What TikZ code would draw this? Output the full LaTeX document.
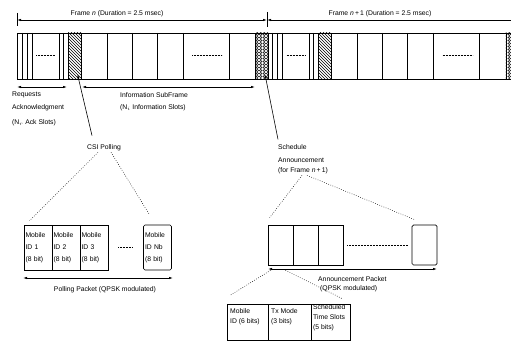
\documentclass[tikz,border=0pt]{standalone}
\usepackage{fontspec}
\setmainfont{Liberation Sans}
\usetikzlibrary{patterns,arrows.meta}
\pgfdeclarepatternformonly{beads}{\pgfpoint{-0.5pt}{-0.5pt}}{\pgfpoint{4pt}{3.5pt}}{\pgfpoint{3.5pt}{3pt}}%
{\pgfsetlinewidth{0.45pt}\pgfpathellipse{\pgfpoint{1.75pt}{1.5pt}}{\pgfpoint{1.3pt}{0pt}}{\pgfpoint{0pt}{1.1pt}}\pgfusepath{stroke}}
\begin{document}
\begin{tikzpicture}[x=1pt,y=-1pt,
  lbl/.style={font=\fontsize{6.8}{8}\selectfont, inner sep=0pt, anchor=west},
  tip/.style={Latex[length=4pt,width=2.4pt]},
  dimarrow/.style={{Latex[length=4pt,width=2.4pt]}-{Latex[length=4pt,width=2.4pt]}, line width=0.6pt},
  ptr/.style={-{Latex[length=4pt,width=2.4pt]}, line width=0.6pt},
  sparse/.style={line width=0.5pt, dash pattern=on 0.7pt off 1.6pt},
  slotdots/.style={line width=0.6pt, dash pattern=on 0.7pt off 0.8pt},
  barline/.style={line width=0.8pt},
  hatchbox/.style={draw, line width=0.8pt, pattern=north west lines, minimum width=13pt, minimum height=46pt, inner sep=0pt},
  beadbox/.style={draw, line width=0.8pt, pattern=beads, minimum width=13pt, minimum height=46pt, inner sep=0pt},
  pbox/.style={draw, line width=0.7pt, font=\fontsize{6.8}{12}\selectfont, align=left, text width=25pt, inner sep=1.5pt, minimum height=45pt},
  abox/.style={draw, line width=0.7pt, minimum width=25pt, minimum height=40pt, inner sep=0pt},
  fbox/.style={draw, line width=0.7pt, minimum height=36pt, inner sep=0pt},
  ftext/.style={font=\fontsize{6.8}{10}\selectfont, align=left, inner sep=0pt, anchor=west}
]
\useasboundingbox (0,0) rectangle (511,342);

% ---- frame bar ----
\draw[barline] (511,33) -- (17,33) -- (17,79) -- (511,79);
\foreach \o in {0,250.5}{
  \foreach \x in {22,27,32,59,63,107,132,157,183,229}{
    \draw[barline] (\x+\o,33) -- (\x+\o,79);
  }
  \draw[slotdots] (36+\o,55) -- (55+\o,55);
  \draw[slotdots] (192+\o,55) -- (222+\o,55);
}
\node[hatchbox] (hb1) at (74.5,56) {};
\node[hatchbox] (hb2) at (325,56) {};
\node[beadbox] (cb1) at (261.5,56) {};
\node[draw, line width=0.8pt, pattern=beads, minimum width=7pt, minimum height=46pt, inner sep=0pt, anchor=west] (cb2) at (505.5,56) {};

% ---- frame duration arrows ----
\coordinate (t0a) at (17,13);
\coordinate (t0b) at (17,26);
\coordinate (t1a) at (267,12);
\coordinate (t1b) at (267,27);
\coordinate (fs) at (17,20);
\coordinate (fm) at (267,20);
\coordinate (fe) at (511,20);
\draw[line width=0.7pt] (t0a) -- (t0b);
\draw[line width=0.7pt] (t1a) -- (t1b);
\draw[dimarrow] (fs) -- (fm);
\draw[{Latex[length=4pt,width=2.4pt]}-, line width=0.6pt] (fm) -- (fe);
\node[lbl, anchor=center] (fn) at (117,14) {Frame \textit{n} (Duration = 2.5 msec)};
\node[lbl, anchor=center] (fn1) at (380,14) {Frame \textit{n}\,+\,1 (Duration = 2.5 msec)};

% ---- subframe arrows ----
\coordinate (ra) at (17,87);
\coordinate (rb) at (67,87);
\coordinate (ia) at (82,87);
\coordinate (ib) at (255,87);
\draw[dimarrow] (ra) -- (rb);
\draw[dimarrow] (ia) -- (ib);

\node[lbl] (req1) at (12,95) {Requests};
\node[lbl] (req2) at (12,108) {Acknowledgment};
\node[lbl] (req3) at (12,123) {(N$_{r}$ Ack Slots)};
\node[lbl] (inf1) at (120,95) {Information SubFrame};
\node[lbl] (inf2) at (120,108) {(N$_{i}$ Information Slots)};

% ---- CSI polling ----
\node[lbl] (csi) at (87,148) {CSI Polling};
\draw[ptr] ([xshift=5pt,yshift=9pt]csi.north west) -- ([xshift=3pt,yshift=5pt]hb1.south);

\node[pbox] (p1) at (38,247.5) {Mobile\\ID 1\\(8 bit)};
\node[pbox] (p2) at (66,247.5) {Mobile\\ID 2\\(8 bit)};
\node[pbox] (p3) at (94,247.5) {Mobile\\ID 3\\(8 bit)};
\node[pbox, rounded corners=1.5pt] (pN) at (157.5,247.5) {Mobile\\ID Nb\\(8 bit)};
\draw[slotdots] ([xshift=10pt]p3.east) -- ([xshift=-11pt]pN.west);
\draw[sparse] ([xshift=-6pt,yshift=-1pt]csi.south) -- ([xshift=6pt,yshift=4pt]p1.north west);
\draw[sparse] ([xshift=7pt,yshift=-1pt]csi.south) -- ([xshift=-8pt,yshift=10pt]pN.north);

\coordinate (pa) at (23,278);
\coordinate (pb) at (173,278);
\draw[dimarrow] (pa) -- (pb);
\node[lbl, anchor=center] (pp) at (105,290) {Polling Packet (QPSK modulated)};

% ---- schedule announcement ----
\node[lbl] (s1) at (278,147) {Schedule};
\node[lbl] (s2) at (278,160) {Announcement};
\node[lbl] (s3) at (278,171) {(for Frame \textit{n}\,+\,1)};
\draw[ptr] ([yshift=5pt]s1.north west) -- ([xshift=3.5pt,yshift=5pt]cb1.south);

\node[abox] (a1) at (280.5,245) {};
\node[abox] (a2) at (305.5,245) {};
\node[abox] (a3) at (330.5,245) {};
\node[abox, rounded corners=1.5pt] (a4) at (424.5,245) {};
\draw[slotdots] ([xshift=4pt]a3.east) -- ([xshift=-4pt]a4.west);
\draw[sparse] ([xshift=24pt,yshift=-1pt]s3.south west) -- ([xshift=2pt,yshift=7pt]a1.north west);
\draw[sparse] ([xshift=29pt,yshift=-1pt]s3.south west) -- ([xshift=3pt,yshift=5pt]a4.north west);

\coordinate (aa) at (268,269);
\coordinate (ab) at (437,269);
\draw[dimarrow] (aa) -- (ab);
\node[lbl] (ap1) at (318,279) {Announcement Packet};
\node[lbl] (ap2) at (320,289) {(QPSK modulated)};

% ---- field breakdown ----
\node[fbox, minimum width=41pt] (f1) at (247.5,322) {};
\node[fbox, minimum width=43pt] (f2) at (289.5,322) {};
\node[fbox, minimum width=39pt] (f3) at (330.5,322) {};
\node[ftext] (ft1) at (230,317) {Mobile\\ID (6 bits)};
\node[ftext] (ft2) at (271,317) {Tx Mode\\(3 bits)};
\node[ftext] (ft3) at (313,318) {Scheduled\\Time Slots\\(5 bits)};
\draw[sparse] ([xshift=-10pt,yshift=-5pt]a1.south) -- ([xshift=3pt,yshift=8pt]f1.north west);
\draw[sparse] ([xshift=5pt,yshift=-5pt]a1.south) -- ([xshift=-8pt,yshift=5pt]f3.north east);
\end{tikzpicture}
\end{document}
